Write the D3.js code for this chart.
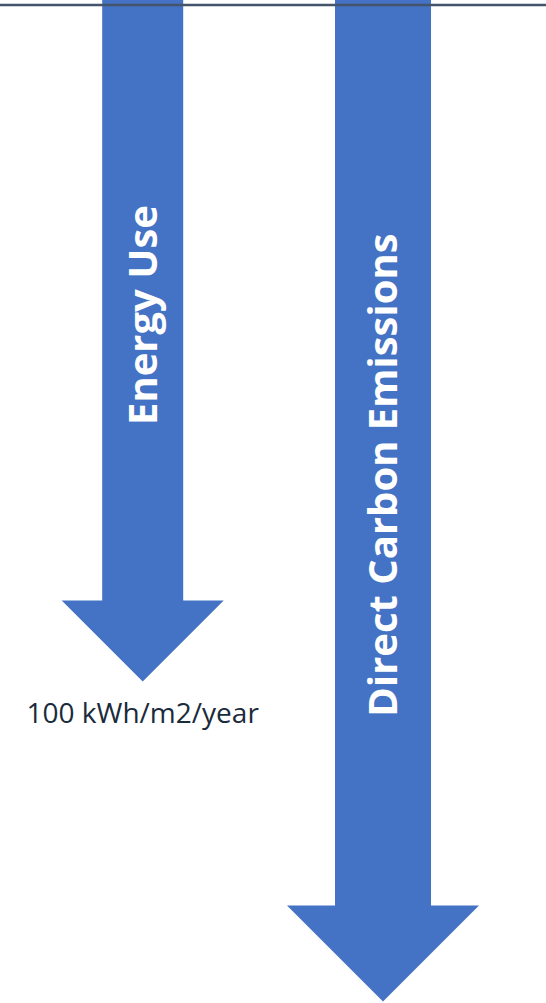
<!DOCTYPE html>
<html>
<head>
<meta charset="utf-8">
<script src="https://cdn.jsdelivr.net/npm/d3@7"></script>
<style>
  body { margin: 0; background: #fff; }
  svg { display: block; }
</style>
</head>
<body>
<div id="chart"></div>
<script>
const width = 546;
const height = 1003;

// arrows: label and how far down they reach (share of the full depth)
const labels = ["Energy Use", "Direct Carbon Emissions"];
const depths = [67.9, 100];
const shaftWidths = [81, 96];
const notes = ["100 kWh/m2/year", ""];

const arrows = labels.map((d, i) => ({ label: d, depth: depths[i], w: shaftWidths[i], note: notes[i] }));

const x = d3.scalePoint()
  .domain(labels)
  .range([142.7, 383]);

const y = d3.scaleLinear()
  .domain([0, 100])
  .range([5, 1001.5]);

const svg = d3.select("#chart")
  .append("svg")
  .attr("width", width)
  .attr("height", height);

function arrowPath(d) {
  const cx = x(d.label);
  const half = d.w / 2;
  const tip = y(d.depth);
  const headTop = tip - d.w;
  return [
    [cx - half, 0],
    [cx + half, 0],
    [cx + half, headTop],
    [cx + d.w, headTop],
    [cx, tip],
    [cx - d.w, headTop],
    [cx - half, headTop]
  ];
}

svg.append("g")
  .selectAll("path")
  .data(arrows)
  .join("path")
  .attr("d", d => d3.line()(arrowPath(d)) + "Z")
  .attr("fill", "#4472c4");

// top baseline
svg.append("line")
  .attr("x1", 0)
  .attr("x2", width)
  .attr("y1", y(0))
  .attr("y2", y(0))
  .attr("stroke", "#44546a")
  .attr("stroke-width", 2.5);

svg.append("g")
  .selectAll("text")
  .data(arrows)
  .join("text")
  .attr("transform", (d, i) => `translate(${x(d.label) + 14},${i === 0 ? 315 : 475}) rotate(-90)`)
  .attr("text-anchor", "middle")
  .attr("font-family", "Open Sans")
  .attr("font-weight", "bold")
  .attr("font-size", 40)
  .attr("fill", "#fff")
  .text(d => d.label);

svg.append("g")
  .selectAll("text")
  .data(arrows.filter(d => d.note))
  .join("text")
  .attr("x", d => x(d.label))
  .attr("y", d => y(d.depth) + 41)
  .attr("text-anchor", "middle")
  .attr("font-family", "Open Sans")
  .attr("font-size", 28)
  .attr("fill", "#1a2b3c")
  .text(d => d.note);
</script>
</body>
</html>
